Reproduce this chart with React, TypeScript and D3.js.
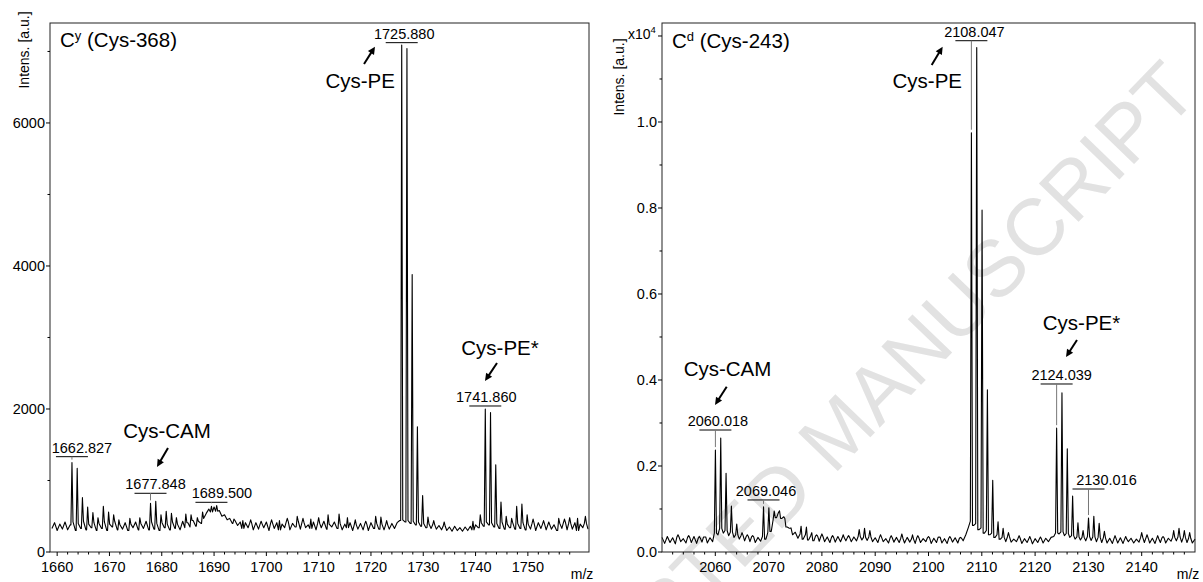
import React from "react";
import * as d3 from "d3";

const FONT = "'Liberation Sans', Arial, Helvetica, sans-serif";

// ---------------- Left panel: Cy (Cys-368) ----------------
const leftNoiseStart = 1659;
const leftNoiseStep = 0.5;
const leftNoise = [
  330, 410, 300, 390, 320, 420, 310, 380,
  420, 300, 400, 330, 430, 310, 390, 340, 410, 300,
  400, 330, 420, 300, 390, 350, 430, 310, 380, 320,
  410, 300, 390, 340, 420, 310, 400, 330, 430, 310,
  420, 320, 400, 300, 410, 340, 390, 310, 420, 330,
  390, 310, 430, 340, 410, 350, 440, 360, 430, 400,
  470, 540, 600, 560, 630, 570, 580, 500, 520, 450,
  470, 400, 440, 370, 420, 330, 410, 340, 400, 310,
  410, 320, 390, 340, 420, 300, 400, 330, 410, 310,
  390, 340, 420, 310, 400, 350, 430, 320, 410, 340,
  380, 330, 420, 310, 400, 340, 430, 320, 390, 350,
  420, 330, 400, 310, 390, 340, 410, 300, 380, 320,
  400, 310, 390, 300, 410, 330, 400, 320, 390, 310,
  380, 320, 400, 330, 410, 440, 450, 420, 440, 400,
  430, 380, 420, 360, 400, 340, 390, 330, 380, 320,
  370, 310, 360, 300, 350, 290, 360, 300, 340, 290,
  350, 300, 360, 310, 380, 340, 410, 360, 420, 380,
  410, 350, 400, 330, 420, 320, 390, 340, 410, 320,
  400, 330, 410, 310, 390, 320, 400, 300, 410, 330,
  390, 310, 420, 320, 380, 300, 400, 330, 410, 310,
  400, 320, 410, 300, 390, 340, 400, 320,
];
const leftPeaks: [number, number][] = [
  [1662.83, 1250], [1663.83, 1170], [1664.83, 760], [1665.83, 630], [1666.83, 550],
  [1667.8, 480], [1668.83, 640], [1669.83, 560], [1670.8, 520], [1671.8, 450],
  [1673.9, 470], [1675.8, 480], [1677.85, 680], [1678.85, 710], [1679.85, 520],
  [1680.85, 570], [1681.85, 540], [1682.8, 480], [1684.6, 530], [1685.6, 520],
  [1686.8, 480], [1687.8, 560], [1689.5, 640], [1690.5, 650],
  [1693.8, 460], [1695.5, 440], [1697, 450], [1699, 430], [1701, 450], [1702.5, 440],
  [1704, 470], [1705.9, 500], [1707, 470], [1708.5, 460], [1710, 480], [1711.8, 520],
  [1713.9, 530], [1715.5, 480], [1717, 450], [1719, 430], [1720.9, 500], [1721.9, 490],
  [1723, 440], [1725.88, 7090], [1726.88, 7040], [1727.88, 3880], [1728.88, 1750],
  [1729.88, 790], [1730.9, 490], [1732, 440], [1734, 420], [1739.5, 430], [1740.9, 520],
  [1741.86, 2000], [1742.86, 1950], [1743.86, 1220], [1744.86, 700], [1745.86, 500],
  [1746.9, 470], [1747.86, 640], [1748.86, 670], [1749.86, 520], [1751, 460],
  [1753, 440], [1755.9, 470], [1757, 460], [1758, 480], [1759.5, 470], [1761, 500],
];
const leftLabels = [
  { mz: 1662.827, text: "1662.827", bar: 1333, dx: 10 },
  { mz: 1677.848, text: "1677.848", bar: 821, dx: 5 },
  { mz: 1689.5, text: "1689.500", bar: 695, dx: 10.5 },
  { mz: 1725.88, text: "1725.880", bar: 7123, dx: 2.5 },
  { mz: 1741.86, text: "1741.860", bar: 2042, dx: 1 },
];
const leftYTicks = [0, 2000, 4000, 6000];
const leftYMinor = [1000, 3000, 5000, 7000];
const leftXTicks = [1660, 1670, 1680, 1690, 1700, 1710, 1720, 1730, 1740, 1750];
const leftNotes = [
  { text: "Cys-PE", mz: 1724.59, I: 6489, anchor: "end" },
  { text: "Cys-PE*", mz: 1744.67, I: 2755, anchor: "middle" },
  { text: "Cys-CAM", mz: 1681.0, I: 1594, anchor: "middle" },
];
const leftArrows = [
  { mz1: 1718.67, I1: 6825, mz2: 1720.77, I2: 7067 },
  { mz1: 1744.1, I1: 2643, mz2: 1741.8, I2: 2391 },
  { mz1: 1681.19, I1: 1454, mz2: 1679.09, I2: 1189 },
];

// ---------------- Right panel: Cd (Cys-243) ----------------
const rightNoiseStart = 2050;
const rightNoiseStep = 0.5;
const rightNoise = [
  0.034, 0.020, 0.036, 0.022, 0.033, 0.019, 0.035, 0.024, 0.031, 0.021,
  0.034, 0.022, 0.036, 0.020, 0.032, 0.023, 0.035, 0.021, 0.033, 0.024,
  0.044, 0.040, 0.055, 0.044, 0.050, 0.038, 0.046, 0.034, 0.040, 0.030,
  0.038, 0.026, 0.036, 0.024, 0.035, 0.022, 0.034, 0.025, 0.036, 0.030,
  0.045, 0.048, 0.075, 0.080, 0.092, 0.078, 0.082, 0.058, 0.056, 0.040,
  0.046, 0.032, 0.042, 0.030, 0.040, 0.028, 0.038, 0.026, 0.037, 0.025,
  0.036, 0.024, 0.035, 0.022, 0.034, 0.023, 0.036, 0.024, 0.033, 0.026,
  0.034, 0.024, 0.035, 0.026, 0.036, 0.028, 0.034, 0.027, 0.035, 0.024,
  0.033, 0.022, 0.034, 0.024, 0.031, 0.021, 0.033, 0.023, 0.034, 0.022,
  0.032, 0.021, 0.034, 0.023, 0.030, 0.020, 0.033, 0.022, 0.031, 0.024,
  0.033, 0.020, 0.032, 0.022, 0.034, 0.021, 0.031, 0.020, 0.032, 0.023,
  0.033, 0.021, 0.032, 0.026, 0.040, 0.058, 0.072, 0.062, 0.066, 0.052,
  0.056, 0.044, 0.050, 0.040, 0.044, 0.034, 0.040, 0.030, 0.034, 0.024,
  0.035, 0.023, 0.030, 0.024, 0.032, 0.020, 0.031, 0.022, 0.030, 0.019,
  0.031, 0.022, 0.030, 0.021, 0.032, 0.024, 0.034, 0.036, 0.044, 0.042,
  0.047, 0.038, 0.043, 0.034, 0.038, 0.030, 0.035, 0.028, 0.034, 0.026,
  0.036, 0.027, 0.035, 0.024, 0.034, 0.022, 0.033, 0.021, 0.032, 0.020,
  0.031, 0.021, 0.033, 0.020, 0.030, 0.024, 0.032, 0.021, 0.030, 0.023,
  0.034, 0.022, 0.033, 0.021, 0.032, 0.020, 0.031, 0.022, 0.033, 0.021,
  0.032, 0.025, 0.034, 0.026, 0.035, 0.023, 0.034, 0.022, 0.032, 0.021,
  0.030,
];
const rightPeaks: [number, number][] = [
  [2053, 0.040], [2055, 0.038], [2057, 0.036], [2058, 0.035],
  [2060.02, 0.237], [2061.02, 0.265], [2062.02, 0.183], [2063.02, 0.107], [2064.02, 0.065],
  [2065.02, 0.045], [2066, 0.040], [2067, 0.038],
  [2069.05, 0.105], [2070.05, 0.103], [2071.05, 0.095], [2072.05, 0.096], [2073.05, 0.078],
  [2074, 0.055], [2076.1, 0.060], [2077.1, 0.058], [2078.1, 0.045], [2079, 0.040],
  [2080, 0.042], [2082, 0.038], [2084, 0.040], [2085, 0.038], [2087, 0.052], [2088, 0.055],
  [2089, 0.050], [2091, 0.040], [2093, 0.038], [2095, 0.042], [2097, 0.040], [2098, 0.038],
  [2100, 0.036], [2102, 0.035], [2104, 0.036], [2106, 0.034],
  [2108.05, 0.975], [2109.05, 1.173], [2110.05, 0.795], [2111.05, 0.377], [2112.05, 0.167],
  [2113.05, 0.070], [2114, 0.055], [2115, 0.045], [2117, 0.038], [2119, 0.036], [2121, 0.035],
  [2124.04, 0.288], [2125.04, 0.370], [2126.04, 0.240], [2127.04, 0.130], [2128.04, 0.068],
  [2129, 0.050], [2130.02, 0.079], [2131.02, 0.083], [2132.02, 0.067], [2133, 0.048],
  [2135, 0.038], [2137, 0.036], [2140, 0.045], [2141, 0.040], [2143, 0.038], [2144, 0.036],
  [2146, 0.050], [2147, 0.055], [2148, 0.050], [2149, 0.045],
];
const rightLabels = [
  { mz: 2060.018, text: "2060.018", bar: 0.2837, dx: 2.5 },
  { mz: 2069.046, text: "2069.046", bar: 0.121, dx: 2.5 },
  { mz: 2108.047, text: "2108.047", bar: 1.189, dx: 3 },
  { mz: 2124.039, text: "2124.039", bar: 0.3907, dx: 5 },
  { mz: 2130.016, text: "2130.016", bar: 0.1465, dx: 18 },
];
const rightYTicks = [0, 0.2, 0.4, 0.6, 0.8, 1.0];
const rightYMinor = [0.1, 0.3, 0.5, 0.7, 0.9, 1.1];
const rightXTicks = [2060, 2070, 2080, 2090, 2100, 2110, 2120, 2130, 2140];
const rightNotes = [
  { text: "Cys-PE", mz: 2106.29, I: 1.0791, anchor: "end" },
  { text: "Cys-CAM", mz: 2062.29, I: 0.4093, anchor: "middle" },
  { text: "Cys-PE*", mz: 2128.71, I: 0.5163, anchor: "middle" },
];
const rightArrows = [
  { mz1: 2100.6, I1: 1.1326, mz2: 2102.66, I2: 1.1751 },
  { mz1: 2062.14, I1: 0.3844, mz2: 2059.94, I2: 0.3419 },
  { mz1: 2127.86, I1: 0.493, mz2: 2125.8, I2: 0.4535 },
];

type Spec = {
  left: number; right: number; top: number; bottom: number;
  xDomain: [number, number]; yDomain: [number, number];
  noiseStart: number; noiseStep: number; noise: number[];
  peaks: [number, number][];
  labels: { mz: number; text: string; bar: number; dx: number }[];
  yTicks: number[]; yMinor: number[]; yTopTick?: number; xTicks: number[];
  yFmt: (v: number) => string;
  notes: { text: string; mz: number; I: number; anchor: string }[];
  arrows: { mz1: number; I1: number; mz2: number; I2: number }[];
  title: [string, string, string]; titleX: number; titleY: number;
  yTitleX: number; yTitleY: number; exponent?: boolean;
};

function Arrow({ x1, y1, x2, y2 }: { x1: number; y1: number; x2: number; y2: number }) {
  const dx = x2 - x1, dy = y2 - y1;
  const len = Math.hypot(dx, dy);
  const ux = dx / len, uy = dy / len;
  const hl = 7.5, hw = 3.6;
  const bx = x2 - ux * hl, by = y2 - uy * hl;
  const pts = [
    [x2, y2],
    [bx - uy * hw, by + ux * hw],
    [bx + uy * hw, by - ux * hw],
  ];
  return (
    <g>
      <line x1={x1} y1={y1} x2={bx + ux * 1} y2={by + uy * 1} stroke="#000" strokeWidth={2} />
      <polygon points={pts.map((p) => p.join(",")).join(" ")} fill="#000" />
    </g>
  );
}

function Panel({ s }: { s: Spec }) {
  const x = d3.scaleLinear().domain(s.xDomain).range([s.left, s.right]);
  const y = d3.scaleLinear().domain(s.yDomain).range([s.bottom, s.top]);
  const w = 0.2;
  const nearest = (mz: number) =>
    s.noise[Math.max(0, Math.min(s.noise.length - 1, Math.round((mz - s.noiseStart) / s.noiseStep)))];
  const pts: [number, number][] = [];
  s.noise.forEach((v, i) => {
    const mz = s.noiseStart + i * s.noiseStep;
    if (!s.peaks.some(([m]) => Math.abs(m - mz) < 0.26)) pts.push([mz, v]);
  });
  s.peaks.forEach(([m, h]) => {
    pts.push([m - w, nearest(m - w)]);
    pts.push([m, h]);
    pts.push([m + w, nearest(m + w)]);
  });
  pts.sort((a, b) => a[0] - b[0]);
  const clipped = pts.filter((p) => p[0] >= s.xDomain[0] && p[0] <= s.xDomain[1]);
  const line = d3.line<[number, number]>().x((d) => x(d[0])).y((d) => y(d[1]));

  const xMinor = d3.range(Math.ceil(s.xDomain[0] / 2) * 2, s.xDomain[1], 2).filter((v) => v % 10 !== 0);
  const peakTop = (mz: number) => {
    let best = s.peaks[0];
    s.peaks.forEach((p) => { if (Math.abs(p[0] - mz) < Math.abs(best[0] - mz)) best = p; });
    return best[1];
  };

  return (
    <g fontFamily={FONT}>
      <path d={line(clipped) || ""} fill="none" stroke="#000" strokeWidth={1.1} strokeLinejoin="round" />
      <rect x={s.left} y={s.top} width={s.right - s.left} height={s.bottom - s.top} fill="none" stroke="#222" strokeWidth={1} />
      {s.yTicks.map((t) => (
        <g key={"y" + t}>
          <line x1={s.left - 4} x2={s.left} y1={y(t)} y2={y(t)} stroke="#000" />
          <text x={s.left - 5} y={y(t) + 5} textAnchor="end" fontSize={14.5} fill="#000">{s.yFmt(t)}</text>
        </g>
      ))}
      {s.yMinor.map((t) => (
        <line key={"ym" + t} x1={s.left - 2.5} x2={s.left} y1={y(t)} y2={y(t)} stroke="#000" />
      ))}
      {s.yTopTick !== undefined && (
        <line x1={s.left - 4} x2={s.left} y1={y(s.yTopTick)} y2={y(s.yTopTick)} stroke="#000" />
      )}
      {s.xTicks.map((t) => (
        <g key={"x" + t}>
          <line x1={x(t)} x2={x(t)} y1={s.bottom} y2={s.bottom + 4} stroke="#000" />
          <text x={x(t)} y={s.bottom + 20} textAnchor="middle" fontSize={14.5} fill="#000">{t}</text>
        </g>
      ))}
      {xMinor.map((t) => (
        <line key={"xm" + t} x1={x(t)} x2={x(t)} y1={s.bottom} y2={s.bottom + 2.5} stroke="#000" />
      ))}
      <text x={s.right - 7} y={s.bottom + 27} textAnchor="middle" fontSize={14} fill="#000">m/z</text>
      <text transform={`translate(${s.yTitleX},${s.yTitleY}) rotate(-90)`} textAnchor="middle" fontSize={14} fill="#000">
        Intens. [a.u.]
      </text>
      {s.exponent && (
        <text x={s.left - 34} y={y(1.2) + 3} fontSize={14} fill="#000">
          x10<tspan fontSize={9.5} dy={-6}>4</tspan>
        </text>
      )}
      <text x={s.titleX} y={s.titleY} fontSize={20.5} fill="#000">
        {s.title[0]}
        <tspan fontSize={13} dy={-7}>{s.title[1]}</tspan>
        <tspan dy={7}>{s.title[2]}</tspan>
      </text>
      {s.labels.map((l) => {
        const px = x(l.mz);
        const by = y(l.bar);
        const top = y(peakTop(l.mz));
        return (
          <g key={l.text}>
            <line x1={px - 16} x2={px + 16} y1={by} y2={by} stroke="#000" strokeWidth={1} />
            {top - 3 > by && <line x1={px} x2={px} y1={by} y2={top - 3} stroke="#777" strokeWidth={1} />}
            <text x={px + l.dx} y={by - 4} textAnchor="middle" fontSize={14.5} fill="#000">{l.text}</text>
          </g>
        );
      })}
      {s.notes.map((n) => (
        <text key={n.text} x={x(n.mz)} y={y(n.I)} textAnchor={n.anchor as any} fontSize={20.5} fill="#000">{n.text}</text>
      ))}
      {s.arrows.map((a, i) => (
        <Arrow key={i} x1={x(a.mz1)} y1={y(a.I1)} x2={x(a.mz2)} y2={y(a.I2)} />
      ))}
    </g>
  );
}

const leftSpec: Spec = {
  left: 50, right: 589, top: 23, bottom: 552,
  xDomain: [1658.63, 1761.69], yDomain: [0, 7398],
  noiseStart: leftNoiseStart, noiseStep: leftNoiseStep, noise: leftNoise,
  peaks: leftPeaks, labels: leftLabels,
  yTicks: leftYTicks, yMinor: leftYMinor, xTicks: leftXTicks,
  yFmt: (v) => String(v),
  notes: leftNotes, arrows: leftArrows,
  title: ["C", "y", " (Cys-368)"], titleX: 60, titleY: 47,
  yTitleX: 29, yTitleY: 50,
};

const rightSpec: Spec = {
  left: 662, right: 1195, top: 23, bottom: 552,
  xDomain: [2050, 2150], yDomain: [0, 1.2302],
  noiseStart: rightNoiseStart, noiseStep: rightNoiseStep, noise: rightNoise,
  peaks: rightPeaks, labels: rightLabels,
  yTicks: rightYTicks, yMinor: rightYMinor, yTopTick: 1.2, xTicks: rightXTicks,
  yFmt: (v) => d3.format(".1f")(v),
  notes: rightNotes, arrows: rightArrows,
  title: ["C", "d", " (Cys-243)"], titleX: 672, titleY: 48,
  yTitleX: 624, yTitleY: 77, exponent: true,
};

export default function App() {
  return (
    <svg
      width={1203}
      height={582}
      viewBox="0 0 1203 582"
      style={{ position: "absolute", left: 0, top: 0, background: "#fff" }}
    >
      <rect x={0} y={0} width={1203} height={582} fill="#fff" />
      <text
        transform="translate(1200.6,95.3) rotate(-46)"
        textAnchor="end"
        fontFamily={FONT}
        fontSize={80}
        fill="#e2e2e2"
      >
        ACCEPTED MANUSCRIPT
      </text>
      <Panel s={leftSpec} />
      <Panel s={rightSpec} />
    </svg>
  );
}
